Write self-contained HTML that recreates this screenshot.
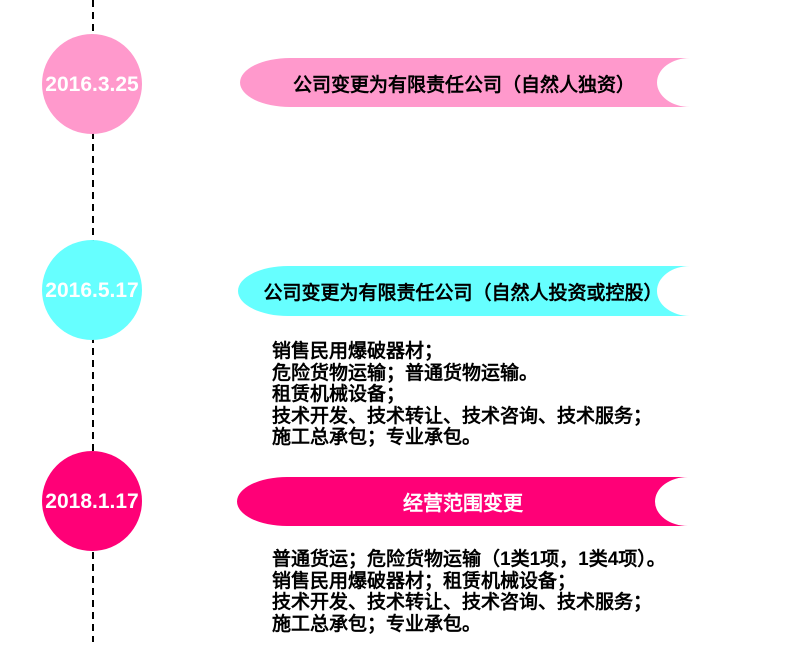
<!DOCTYPE html>
<html><head><meta charset="utf-8"><style>
body{margin:0;background:#fff;width:791px;height:647px;overflow:hidden;font-family:"Liberation Sans","WenQuanYi Zen Hei",sans-serif}
svg{position:absolute;left:0;top:0}
.t{position:absolute;left:272px;font-weight:bold;font-size:19px;line-height:21.6px;color:#000;white-space:nowrap;font-family:"Liberation Sans","WenQuanYi Zen Hei",sans-serif}
</style></head><body>
<svg width="791" height="647" font-family="Liberation Sans, WenQuanYi Zen Hei, sans-serif" font-weight="bold">
<line x1="93" y1="0" x2="93" y2="642" stroke="#000" stroke-width="2" stroke-dasharray="7,5"/>
<circle cx="92" cy="84" r="50" fill="#FF99CC"/>
<circle cx="92" cy="290" r="50" fill="#66FFFF"/>
<circle cx="92" cy="501" r="50" fill="#FF0077"/>
<text x="92" y="91" fill="#fff" font-size="21" text-anchor="middle">2016.3.25</text>
<text x="92" y="297" fill="#fff" font-size="21" text-anchor="middle">2016.5.17</text>
<text x="92" y="508" fill="#fff" font-size="21" text-anchor="middle">2018.1.17</text>
<path d="M290,58 L690,58 A33,24.5 0 0 0 690,107 L290,107 A50,24.5 0 0 1 290,58 Z" fill="#FF99CC"/>
<path d="M288,266 L690,266 A33,25 0 0 0 690,316 L288,316 A50,25 0 0 1 288,266 Z" fill="#66FFFF"/>
<path d="M287,477 L688,477 A33,24.5 0 0 0 688,526 L287,526 A50,24.5 0 0 1 287,477 Z" fill="#FF0077"/>
<text x="464" y="91" font-size="19" text-anchor="middle" fill="#000">公司变更为有限责任公司（自然人独资）</text>
<text x="463" y="299" font-size="19" text-anchor="middle" fill="#000">公司变更为有限责任公司（自然人投资或控股）</text>
<text x="463" y="510" font-size="20" text-anchor="middle" fill="#fff">经营范围变更</text>
</svg>
<div class="t" style="top:341px">销售民用爆破器材；<br>危险货物运输；普通货物运输。<br>租赁机械设备；<br>技术开发、技术转让、技术咨询、技术服务；<br>施工总承包；专业承包。</div>
<div class="t" style="top:549px">普通货运；危险货物运输（1类1项，1类4项）。<br>销售民用爆破器材；租赁机械设备；<br>技术开发、技术转让、技术咨询、技术服务；<br>施工总承包；专业承包。</div>
</body></html>
